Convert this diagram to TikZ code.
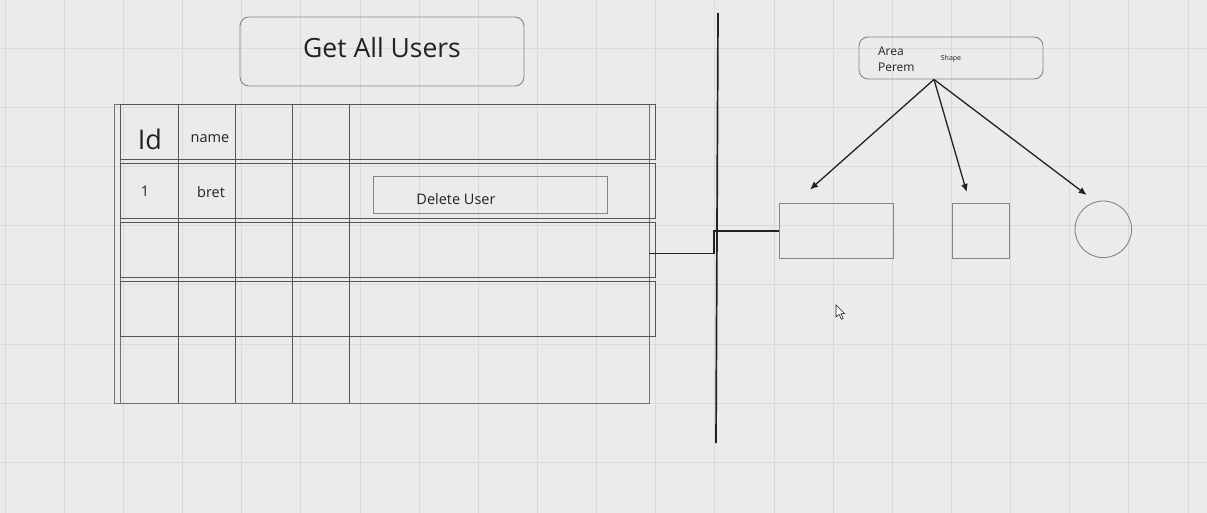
\documentclass[tikz,border=0pt]{standalone}
\usepackage{fontspec}
\setmainfont{Open Sans}
\usetikzlibrary{arrows.meta}
\definecolor{paper}{HTML}{EBEBEB}
\definecolor{gridline}{HTML}{DADADA}
\definecolor{boxline}{HTML}{858585}
\definecolor{tblline}{HTML}{555555}
\definecolor{frameline}{HTML}{707070}
\definecolor{ink}{HTML}{222222}
\tikzset{
  cell/.style={font=\fontsize{14.5}{16}\selectfont, text=ink},
  plainbox/.style={draw=boxline, line width=0.9pt, inner sep=0pt},
  roundbox/.style={plainbox, rounded corners=9pt},
  pointer/.style={draw=ink, line width=1.3pt, -{Latex[length=8pt,width=7pt]}},
  wire/.style={draw=ink, line width=1.5pt},
}
\begin{document}
\begin{tikzpicture}[x=1pt,y=-1pt]
\fill[paper] (0,0) rectangle (1207,513);
\useasboundingbox (0,0) rectangle (1207,513);
% grid
\foreach \gx in {0,...,20} \draw[gridline, line width=0.8pt] (5+59.15*\gx,0) -- (5+59.15*\gx,513);
\foreach \gy in {0,...,8} \draw[gridline, line width=0.8pt] (0,-11.2+59.2*\gy) -- (1207,-11.2+59.2*\gy);
% title
\node[roundbox, minimum width=284pt, minimum height=69pt, text depth=8pt, font=\fontsize{26.5}{30}\selectfont, text=ink] (title) at (382,51.5) {Get All Users};
% table
\draw[frameline, line width=0.9pt] (114,104) rectangle (649,403);
\draw[frameline, line width=0.9pt] (120,104) -- (120,403);
\foreach \ry in {104,163,222,281}
\draw[tblline, line width=0.9pt] (120,\ry) rectangle (655,\ry+55);
\foreach \cx in {178,235,292,349}
\draw[tblline, line width=1pt] (\cx,104) -- (\cx,403);
\node[font=\fontsize{27}{30}\selectfont, text=ink] (idhead) at (150,139) {Id};
\node[cell] (namehead) at (210,139) {name};
\node[cell] (idone) at (145,191) {1};
\node[cell] (nameone) at (211,192) {bret};
\node[plainbox, minimum width=234pt, minimum height=37pt] (delbtn) at (490,194.5) {};
\node[cell] (deltext) at (456,199) {Delete User};
% divider
\coordinate (divtop) at (718,13);
\coordinate (divbot) at (716,443);
\draw[wire, line width=1.7pt] (divtop) -- (divbot);
% shapes
\node[roundbox, minimum width=184pt, minimum height=42pt] (shape) at (951,58) {};
\node[cell, font=\fontsize{12}{13}\selectfont, anchor=west] (area) at (874.5,51) {Area};
\node[cell, font=\fontsize{12}{13}\selectfont, anchor=west] (perem) at (874.5,67.5) {Perem};
\node[cell, font=\fontsize{7}{8}\selectfont] (shapetext) at (951,59) {Shape};
\node[plainbox, minimum width=114pt, minimum height=55pt] (rectA) at (836,230.8) {};
\node[plainbox, minimum width=57pt, minimum height=55pt] (squareB) at (980.8,230.8) {};
\node[plainbox, circle, minimum size=56.6pt] (circleC) at (1103.3,229.3) {};
\coordinate (fork) at ([xshift=-17pt]shape.south);
\coordinate (tipA) at (810,189.5);
\coordinate (tipB) at (966.7,192);
\coordinate (tipC) at (1086.7,195);
\foreach \t in {tipA,tipB,tipC}
\draw[pointer] (fork) -- (\t);
% table to rectangle
\coordinate (tblport) at (649,253.3);
\coordinate (bend) at (714,253.3);
\draw[wire] (tblport) -- (bend) |- (rectA.west);
% cursor
\draw[ink, fill=white, line width=0.6pt] (836,305) -- (836,317) -- (839,314.3) -- (841.4,319.2) -- (843.2,318.4) -- (840.8,313.8) -- (844.6,313.6) -- cycle;
\end{tikzpicture}
\end{document}
